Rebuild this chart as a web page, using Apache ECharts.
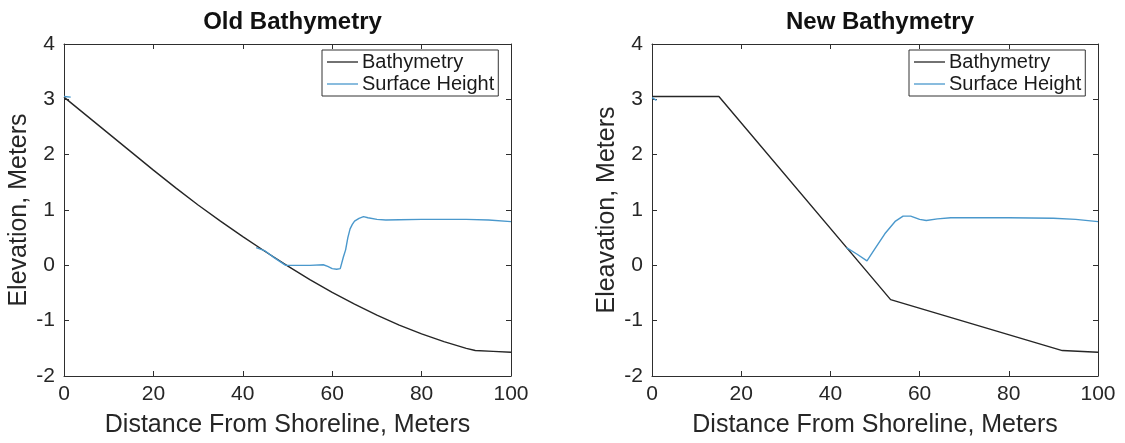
<!DOCTYPE html>
<html>
<head>
<meta charset="utf-8">
<script src="https://cdn.jsdelivr.net/npm/echarts@6/dist/echarts.min.js"></script>
<style>
  html, body { margin: 0; padding: 0; background: #ffffff; }
  #chart { width: 1125px; height: 443px; }
</style>
</head>
<body>
<div id="chart"></div>
<script>
// Tick values shared by both panels
const xTicks = [0, 20, 40, 60, 80, 100];
const yTicks = [-2, -1, 0, 1, 2, 3, 4];

// Old bathymetry profile
const oldBathyX = [0, 5, 10, 15, 20, 25, 30, 35, 40, 45, 50, 55, 60, 65, 70, 75, 80, 85, 90, 92, 96, 100];
const oldBathyY = [3.04, 2.71, 2.38, 2.05, 1.72, 1.40, 1.09, 0.80, 0.52, 0.25, -0.01, -0.26, -0.49, -0.70, -0.90, -1.08, -1.24, -1.38, -1.50, -1.54, -1.555, -1.57];

// Surface height over the old bathymetry (null = gap in the line)
const oldSurfX = [0, 1.5, 2, 43, 45, 47, 49.6, 52, 55, 58, 59, 60, 61, 61.8, 62.5, 63, 63.5, 64, 64.5, 65, 66, 67, 68, 70, 72, 75, 80, 85, 90, 95, 100];
const oldSurfY = [3.05, 3.04, null, 0.32, 0.26, 0.14, 0.0, 0.0, 0.0, 0.01, -0.02, -0.06, -0.07, -0.06, 0.15, 0.28, 0.5, 0.66, 0.74, 0.8, 0.85, 0.88, 0.86, 0.83, 0.82, 0.825, 0.83, 0.83, 0.83, 0.82, 0.79];

// New bathymetry profile
const newBathyX = [0, 15, 53.5, 92, 100];
const newBathyY = [3.05, 3.05, -0.62, -1.54, -1.57];

// Surface height over the new bathymetry
const newSurfX = [0, 1, 2, 43.6, 46, 48.2, 50, 52.2, 54.6, 56.3, 58, 60, 61.5, 64, 67, 70, 80, 90, 95, 100];
const newSurfY = [3.03, 2.98, null, 0.32, 0.2, 0.08, 0.3, 0.57, 0.8, 0.89, 0.89, 0.83, 0.81, 0.84, 0.86, 0.86, 0.86, 0.85, 0.83, 0.79];

const titles = ['Old Bathymetry', 'New Bathymetry'];
const yNames = ['Elevation, Meters', 'Eleavation, Meters'];
const xName = 'Distance From Shoreline, Meters';
const seriesNames = ['Bathymetry', 'Surface Height'];

const pairs = (xs, ys) => xs.map((x, i) => [x, ys[i] === null ? '-' : ys[i]]);

const FONT = '"Liberation Sans", Arial, Helvetica, sans-serif';
const AX = '#2e2e2e';
const TXT = '#262626';
const BATHY_COLOR = '#262626';
const SURF_COLOR = '#4a98cc';

const grids = [
  { left: 64, top: 44, width: 447, height: 337 },
  { left: 652, top: 44, width: 446, height: 337 }
];

function xAxisFor(g, pos, main) {
  return {
    type: 'value', gridIndex: g, position: pos,
    min: xTicks[0], max: xTicks[xTicks.length - 1], interval: xTicks[1] - xTicks[0],
    name: main ? xName : '', nameLocation: 'middle', nameGap: 37,
    nameTextStyle: { fontFamily: FONT, fontSize: 25, color: TXT },
    axisLine: { show: true, onZero: false, lineStyle: { color: AX, width: 1 } },
    axisTick: { show: true, inside: true, length: 5, lineStyle: { color: AX } },
    axisLabel: { show: main, margin: 8, fontFamily: FONT, fontSize: 21, color: TXT },
    splitLine: { show: false }
  };
}
function yAxisFor(g, pos, main) {
  return {
    type: 'value', gridIndex: g, position: pos,
    min: yTicks[0], max: yTicks[yTicks.length - 1], interval: yTicks[1] - yTicks[0],
    name: main ? yNames[g] : '', nameLocation: 'middle', nameGap: 32,
    nameTextStyle: { fontFamily: FONT, fontSize: 25, color: TXT },
    axisLine: { show: true, onZero: false, lineStyle: { color: AX, width: 1 } },
    axisTick: { show: true, inside: true, length: 5, lineStyle: { color: AX } },
    axisLabel: { show: main, margin: 9, fontFamily: FONT, fontSize: 21, color: TXT },
    splitLine: { show: false }
  };
}

const xAxes = [], yAxes = [];
for (let g = 0; g < 2; g++) {
  xAxes.push(xAxisFor(g, 'bottom', true), xAxisFor(g, 'top', false));
  yAxes.push(yAxisFor(g, 'left', true), yAxisFor(g, 'right', false));
}

function lineSeries(name, data, g, color) {
  return {
    name, type: 'line', data,
    xAxisIndex: g * 2, yAxisIndex: g * 2,
    symbol: 'none', showSymbol: false, smooth: false, connectNulls: false,
    lineStyle: { color, width: 1.4 }, itemStyle: { color },
    emphasis: { disabled: true }
  };
}

const series = [
  lineSeries(seriesNames[0], pairs(oldBathyX, oldBathyY), 0, BATHY_COLOR),
  lineSeries(seriesNames[1], pairs(oldSurfX, oldSurfY), 0, SURF_COLOR),
  lineSeries(seriesNames[0], pairs(newBathyX, newBathyY), 1, BATHY_COLOR),
  lineSeries(seriesNames[1], pairs(newSurfX, newSurfY), 1, SURF_COLOR)
];

function legendFor(left) {
  return {
    left, top: 50, orient: 'vertical',
    data: seriesNames,
    icon: 'rect', itemWidth: 31, itemHeight: 1.3, itemGap: 2,
    padding: [2, 4, 2, 5],
    borderColor: '#333', borderWidth: 1, backgroundColor: '#fff',
    selectedMode: false,
    textStyle: { fontFamily: FONT, fontSize: 20, color: '#1a1a1a', padding: [0, 0, 0, -1] }
  };
}

const option = {
  animation: false,
  backgroundColor: '#ffffff',
  title: titles.map((t, g) => ({
    text: t, left: grids[g].left + grids[g].width / 2, top: 5, textAlign: 'center',
    textStyle: { fontFamily: FONT, fontSize: 24, fontWeight: 'bold', color: '#111' }
  })),
  grid: grids,
  xAxis: xAxes,
  yAxis: yAxes,
  legend: [legendFor(322), legendFor(909)],
  series
};

const chart = echarts.init(document.getElementById('chart'), null, { renderer: 'canvas' });
chart.setOption(option);
</script>
</body>
</html>
